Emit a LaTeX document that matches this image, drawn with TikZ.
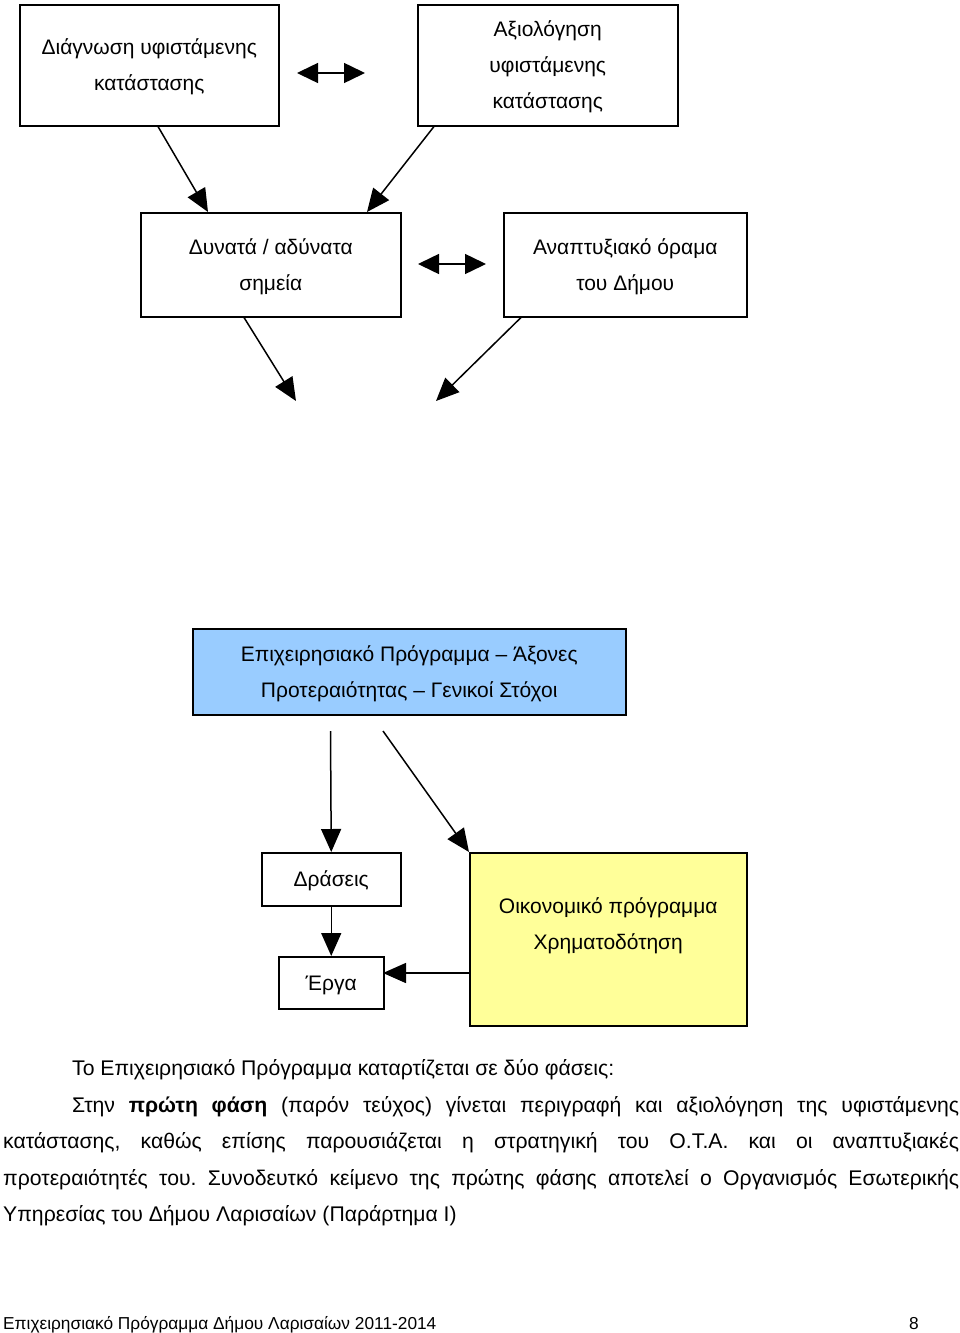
\documentclass[tikz,border=0pt]{standalone}
\usepackage{fontspec}
\setmainfont{Liberation Sans}
\usetikzlibrary{arrows.meta}
\frenchspacing
\definecolor{boxblue}{HTML}{99CCFF}
\definecolor{boxyellow}{HTML}{FFFF99}
\tikzset{
  box/.style={draw=black, line width=1.5pt, anchor=north west, inner sep=0pt, align=center,
    font=\fontsize{21}{36}\selectfont},
  arr/.style={line width=1.5pt, -{Triangle[length=23pt,width=20pt]}},
  dbl/.style={line width=1.5pt, {Triangle[length=21pt,width=20pt]}-{Triangle[length=21pt,width=20pt]}},
  para/.style={anchor=base west, inner sep=0pt, font=\fontsize{21.2}{36}\selectfont},
}
\begin{document}
\begin{tikzpicture}[x=1pt,y=-1pt]
\useasboundingbox (0,0) rectangle (960,1333);
\fill[white] (0,0) rectangle (960,1333);
\node[box, minimum width=259pt, minimum height=121pt] (b1) at (19,4) {\rule{0pt}{19pt}Διάγνωση υφιστάμενης\\κατάστασης};
\node[box, minimum width=260pt, minimum height=121pt] (b2) at (417,4) {\rule{0pt}{19pt}Αξιολόγηση\\υφιστάμενης\\κατάστασης};
\node[box, minimum width=260pt, minimum height=104pt] (b3) at (140,212) {\rule{0pt}{19pt}Δυνατά / αδύνατα\\σημεία};
\node[box, minimum width=243pt, minimum height=104pt] (b4) at (503,212) {\rule{0pt}{19pt}Αναπτυξιακό όραμα\\του Δήμου};
\node[box, fill=boxblue, minimum width=433pt, minimum height=86pt] (b5) at (192,628) {\rule{0pt}{19pt}Επιχειρησιακό Πρόγραμμα – Άξονες\\Προτεραιότητας – Γενικοί Στόχοι};
\node[box, minimum width=139pt, minimum height=53pt] (b6) at (261,852) {\rule{0pt}{19pt}Δράσεις};
\node[box, fill=boxyellow, minimum width=277pt, minimum height=173pt] (b7) at (469,852) {Οικονομικό πρόγραμμα\\Χρηματοδότηση\rule[-32pt]{0pt}{0pt}};
\node[box, minimum width=105pt, minimum height=52pt] (b8) at (278,956) {\rule{0pt}{19pt}Έργα};

\coordinate (d1a) at (297,73); \coordinate (d1b) at (365,73);
\coordinate (d2a) at (418,264); \coordinate (d2b) at (486,264);
\draw[dbl] (d1a) -- (d1b);
\draw[dbl] (d2a) -- (d2b);
\draw[arr] ([xshift=139pt]b1.south west) -- ([xshift=68pt]b3.north west);
\draw[arr] ([xshift=17pt]b2.south west) -- ([xshift=227pt]b3.north west);
\coordinate (e1) at (296,401); \coordinate (e2) at (436,401);
\draw[arr] ([xshift=104pt]b3.south west) -- (e1);
\draw[arr] ([xshift=18pt]b4.south west) -- (e2);
\coordinate (s1) at (330.5,731); \coordinate (s2) at (383,731);
\draw[arr] (s1) -- (b6.north);
\draw[arr] (s2) -- (b7.north west);
\draw[arr] (b6.south) -- (b8.north);
\coordinate (y1) at (469,973); \coordinate (y2) at (383,973);
\draw[arr] (y1) -- (y2);

\node[para] (p1) at (72,1075) {Το Επιχειρησιακό Πρόγραμμα καταρτίζεται σε δύο φάσεις:};
\node[para] (p2) at (72,1112) {\makebox[887pt][s]{Στην \textbf{πρώτη φάση} (παρόν τεύχος) γίνεται περιγραφή και αξιολόγηση της υφιστάμενης}};
\node[para] (p3) at (3,1148) {\makebox[956pt][s]{κατάστασης, καθώς επίσης παρουσιάζεται η στρατηγική του Ο.Τ.Α. και οι αναπτυξιακές}};
\node[para] (p4) at (3,1185) {\makebox[956pt][s]{προτεραιότητές του. Συνοδευτκό κείμενο της πρώτης φάσης αποτελεί ο Οργανισμός Εσωτερικής}};
\node[para] (p5) at (3,1221) {Υπηρεσίας του Δήμου Λαρισαίων (Παράρτημα Ι)};
\node[para, font=\fontsize{17.3}{24}\selectfont] (f1) at (3,1329) {Επιχειρησιακό Πρόγραμμα Δήμου Λαρισαίων 2011-2014};
\node[para, font=\fontsize{17.3}{24}\selectfont, anchor=base east] (f2) at (919,1329) {8};
\end{tikzpicture}
\end{document}
